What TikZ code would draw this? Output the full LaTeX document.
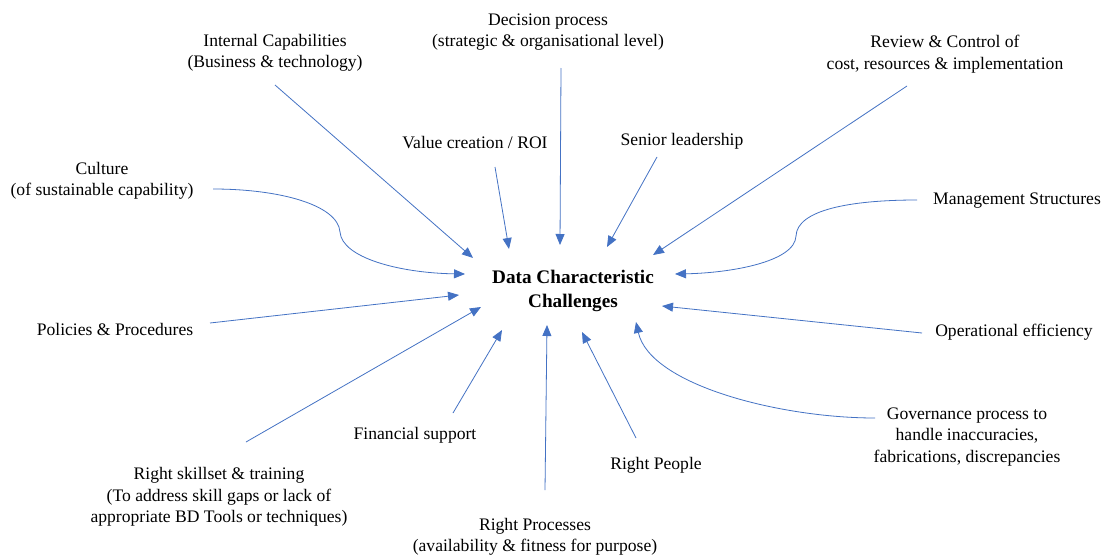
\documentclass[tikz,border=0pt]{standalone}
\usepackage{fontspec}
\setmainfont{Liberation Serif}
\usetikzlibrary{arrows.meta}
\definecolor{linkblue}{HTML}{4472C4}
\begin{document}
\begin{tikzpicture}[x=1pt,y=-1pt,
  lbl/.style={align=center,inner sep=0pt,font=\fontsize{17.6}{21.5}\selectfont},
  hub/.style={align=center,inner sep=0pt,font=\fontsize{19.2}{24.5}\selectfont\bfseries},
  conn/.style={draw=linkblue,line width=0.8pt,-{Triangle[length=11pt,width=9pt]}}]
\useasboundingbox[fill=white] (0,0) rectangle (1105,557);
% labels
\node[lbl] (dec) at (548,32) {Decision process\\(strategic \& organisational level)};
\node[lbl] (ic) at (275,53) {Internal Capabilities\\(Business \& technology)};
\node[lbl] (rc) at (945,54) {Review \& Control of\\cost, resources \& implementation};
\node[lbl] (vc) at (475,143) {Value creation / ROI};
\node[lbl] (sl) at (682,141) {Senior leadership};
\node[lbl] (cu) at (102,181) {Culture\\(of sustainable capability)};
\node[lbl] (ms) at (1017,201) {Management Structures};
\node[hub] (dc) at (573,291) {Data Characteristic\\Challenges};
\node[lbl] (pp) at (115,329) {Policies \& Procedures};
\node[lbl] (oe) at (1014,332) {Operational efficiency};
\node[lbl] (gp) at (967,437) {Governance process to\\handle inaccuracies,\\fabrications, discrepancies};
\node[lbl] (fs) at (415,435) {Financial support};
\node[lbl] (rs) at (219,497) {Right skillset \& training\\(To address skill gaps or lack of\\appropriate BD Tools or techniques)};
\node[lbl] (rp) at (656,465) {Right People};
\node[lbl] (rpr) at (535,537) {Right Processes\\(availability \& fitness for purpose)};
% connector ends
\coordinate (icS) at (275,85);   \coordinate (icT) at (473,258);
\coordinate (vcS) at (495,167);  \coordinate (vcT) at (509,249);
\coordinate (decS) at (561,68);  \coordinate (decT) at (560,245);
\coordinate (slS) at (657,157);  \coordinate (slT) at (607,247);
\coordinate (rcS) at (907,86);   \coordinate (rcT) at (653,255);
\coordinate (cuS) at (213,189);  \coordinate (cuM) at (340,232); \coordinate (cuT) at (465,274);
\coordinate (ppS) at (210,323);  \coordinate (ppT) at (459,295);
\coordinate (rsS) at (246,442);  \coordinate (rsT) at (481,307);
\coordinate (fsS) at (453,413);  \coordinate (fsT) at (502,330);
\coordinate (rprS) at (545,490); \coordinate (rprT) at (547,325);
\coordinate (rpS) at (636,438);  \coordinate (rpT) at (582,332);
\coordinate (msS) at (917,200);  \coordinate (msM) at (796,236); \coordinate (msT) at (675,274);
\coordinate (oeS) at (922,333);  \coordinate (oeT) at (662,306);
\coordinate (gpS) at (875,418);  \coordinate (gpT) at (636,322);
% connectors
\draw[conn] (icS) -- (icT);
\draw[conn] (vcS) -- (vcT);
\draw[conn] (decS) -- (decT);
\draw[conn] (slS) -- (slT);
\draw[conn] (rcS) -- (rcT);
\draw[conn] (cuS) .. controls (280,189) and (338,205) .. (cuM) .. controls (342,258) and (400,273) .. (cuT);
\draw[conn] (ppS) -- (ppT);
\draw[conn] (rsS) -- (rsT);
\draw[conn] (fsS) -- (fsT);
\draw[conn] (rprS) -- (rprT);
\draw[conn] (rpS) -- (rpT);
\draw[conn] (msS) .. controls (850,200) and (797,210) .. (msM) .. controls (795,262) and (730,273) .. (msT);
\draw[conn] (oeS) -- (oeT);
\draw[conn] (gpS) .. controls (780,418) and (650,385) .. (gpT);
\end{tikzpicture}
\end{document}
